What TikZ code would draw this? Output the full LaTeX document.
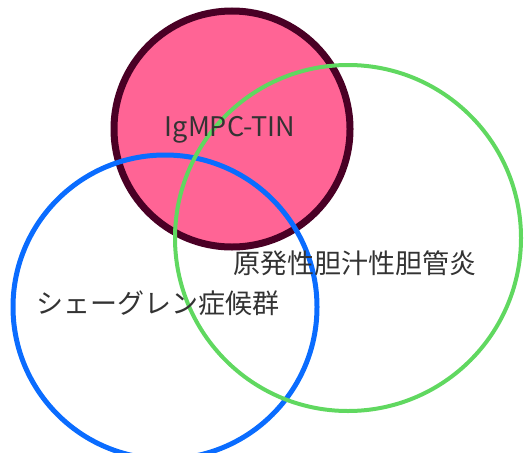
\documentclass[tikz,border=0pt]{standalone}
\usepackage{fontspec}
\newfontfamily\cjk{Noto Sans CJK JP}
\definecolor{pinkfill}{HTML}{FF6495}
\definecolor{maroon}{HTML}{4A0025}
\definecolor{vblue}{HTML}{0A6CFF}
\definecolor{vgreen}{HTML}{60D860}
\definecolor{txt}{HTML}{333333}
\tikzset{
  lbl/.style={font=\cjk\fontsize{27}{30}\selectfont, text=txt, inner sep=0pt},
  setc/.style={circle, inner sep=0pt, minimum size=#1}
}
\begin{document}
\begin{tikzpicture}[x=1pt,y=-1pt]
\useasboundingbox (0,0) rectangle (526,452);
\node[setc=236pt, draw=maroon, line width=7pt, fill=pinkfill] (igm) at (232,129) {};
\node[setc=304pt, draw=vblue, line width=5pt] (sjs) at (165,307) {};
\node[setc=346pt, draw=vgreen, line width=4pt] (psc) at (348,238) {};
\node[lbl] (tigm) at (230,130) {IgMPC-TIN};
\node[lbl] (tpsc) at (355,263) {原発性胆汁性胆管炎};
\node[lbl] (tsjs) at (158,303) {シェーグレン症候群};
\end{tikzpicture}
\end{document}
